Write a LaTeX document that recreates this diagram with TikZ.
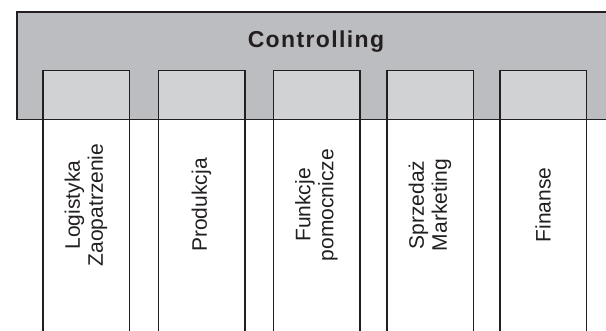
\documentclass[tikz,border=0pt]{standalone}
\usepackage{fontspec}
\setmainfont{Liberation Sans}
\definecolor{linec}{RGB}{35,31,32}
\definecolor{bandgray}{RGB}{188,189,193}
\definecolor{boxgray}{RGB}{209,210,212}
\begin{document}
\begin{tikzpicture}[x=1pt,y=1pt,
  frame/.style={draw=linec, line width=1.5pt},
  column/.style={frame, fill=white, minimum width=86.5pt, minimum height=290pt,
    anchor=north, inner sep=0pt},
  headbox/.style={frame, fill=boxgray, minimum width=86.5pt, minimum height=49pt,
    anchor=north, inner sep=0pt},
  collabel/.style={rotate=90, align=center, text=linec, inner sep=0pt,
    font=\fontsize{21}{23}\selectfont},
  title/.style={text=linec, inner sep=0pt,
    font=\fontsize{23}{27}\selectfont\bfseries\addfontfeatures{LetterSpace=6}}
]
\useasboundingbox (0,0) rectangle (606,331);
\clip (0,0) rectangle (606,331);

% grey band behind the columns (border drawn last)
\node[fill=bandgray, inner sep=0pt, minimum width=620pt, minimum height=107pt,
  anchor=north west] (band) at (17,319) {};

% department columns
\foreach \name/\cx in {c1/86, c2/201.5, c3/316.5, c4/430, c5/543} {
  \node[column] (\name) at (\cx,261) {};
  \node[headbox] (\name h) at (\cx,261) {};
}

% band border over the columns
\draw[frame] (band.north east) -- (band.north west) -- (band.south west) -- (band.south east);

\node[title] (ctl) at (316,289) {Controlling};

\node[collabel] (l1) at (86,126) {Logistyka\\Zaopatrzenie};
\node[collabel] (l2) at (201.5,126) {Produkcja};
\node[collabel] (l3) at (316.5,126) {Funkcje\\pomocnicze};
\node[collabel] (l4) at (430,126) {Sprzedaż\\Marketing};
\node[collabel] (l5) at (543,126) {Finanse};
\end{tikzpicture}
\end{document}
